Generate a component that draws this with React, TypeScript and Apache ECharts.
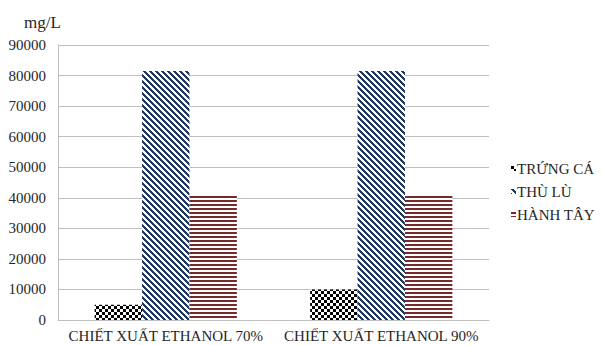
import React, { useEffect, useRef } from "react";
import * as echarts from "echarts";

const categories = ["CHIẾT XUẤT ETHANOL 70%", "CHIẾT XUẤT ETHANOL 90%"];
const seriesNames = ["TRỨNG CÁ", "THÙ LÙ", "HÀNH TÂY"];
const trungCa = [5000, 10000];
const thuLu = [81500, 81500];
const hanhTay = [41000, 41000];
const yTicks = { min: 0, max: 90000, interval: 10000 };
const unitLabel = "mg/L";

function makePattern(kind: string) {
  const size = kind === "h" ? 4 : 6;
  const c = document.createElement("canvas");
  c.width = size;
  c.height = size;
  const ctx = c.getContext("2d")!;
  ctx.fillStyle = "#ffffff";
  ctx.fillRect(0, 0, size, size);
  if (kind === "check") {
    ctx.fillStyle = "#000000";
    ctx.fillRect(0, 0, 3, 3);
    ctx.fillRect(3, 3, 3, 3);
  } else if (kind === "diag") {
    ctx.fillStyle = "#1f3864";
    for (let y = 0; y < size; y++) {
      for (let x = 0; x < size; x++) {
        const d = (((x - y) % size) + size) % size;
        if (d < 3) ctx.fillRect(x, y, 1, 1);
      }
    }
  } else {
    ctx.fillStyle = "#76292b";
    ctx.fillRect(0, 0, size, 2);
  }
  return { image: c, repeat: "repeat", imageWidth: size, imageHeight: size } as any;
}

export default function App() {
  const ref = useRef<HTMLDivElement>(null);
  useEffect(() => {
    if (!ref.current) return;
    const chart = echarts.init(ref.current, null, { renderer: "svg" });
    const font = "Liberation Serif";
    const pats = [makePattern("check"), makePattern("diag"), makePattern("h")];
    const data = [trungCa, thuLu, hanhTay];
    chart.setOption({
      animation: false,
      backgroundColor: "#ffffff",
      title: {
        text: unitLabel,
        left: 19,
        top: 9,
        textStyle: { fontFamily: font, fontSize: 17, fontWeight: "normal", color: "#262626" },
      },
      legend: {
        orient: "vertical",
        left: 511,
        top: 161,
        padding: 0,
        itemWidth: 5,
        itemHeight: 5,
        itemGap: 8,
        icon: "rect",
        textStyle: {
          fontFamily: font,
          fontSize: 15,
          lineHeight: 15,
          color: "#262626",
          padding: [0, 0, 0, -4],
        },
        data: seriesNames,
      },
      grid: { left: 58, right: 113, top: 45, bottom: 25, containLabel: false },
      xAxis: {
        type: "category",
        data: categories,
        axisLine: { lineStyle: { color: "#bfbfbf", width: 1 } },
        axisTick: { show: false },
        axisLabel: { fontFamily: font, fontSize: 15, color: "#262626", margin: 8, interval: 0 },
      },
      yAxis: {
        type: "value",
        min: yTicks.min,
        max: yTicks.max,
        interval: yTicks.interval,
        axisLine: { show: true, lineStyle: { color: "#bfbfbf" } },
        axisTick: { show: false },
        splitLine: { lineStyle: { color: "#bfbfbf" } },
        axisLabel: {
          fontFamily: font,
          fontSize: 15,
          color: "#262626",
          margin: 12,
          formatter: (v: number) => String(v),
        },
      },
      series: seriesNames.map((n, i) => ({
        name: n,
        type: "bar",
        data: data[i],
        barGap: "0%",
        barCategoryGap: "34%",
        itemStyle: { color: pats[i] },
      })),
    });
    return () => chart.dispose();
  }, []);
  return <div ref={ref} style={{ width: 602, height: 345, position: "absolute", left: 0, top: 0 }} />;
}
